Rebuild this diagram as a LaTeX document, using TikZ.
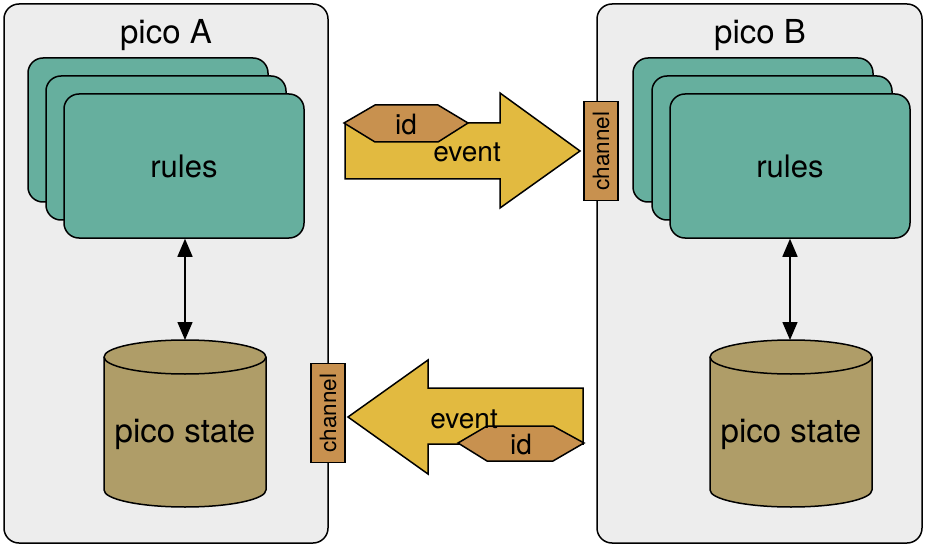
\documentclass[tikz,border=0pt]{standalone}
\usepackage{fontspec}
\setmainfont{TeX Gyre Heros}
\usetikzlibrary{arrows.meta}
\definecolor{picogray}{HTML}{EDEDED}
\definecolor{rulegreen}{HTML}{66AF9E}
\definecolor{statebrown}{HTML}{AF9D68}
\definecolor{eventyellow}{HTML}{E2BA40}
\definecolor{chanorange}{HTML}{C8914F}
\tikzset{
  picobox/.style={draw, line width=1.5pt, fill=picogray, rounded corners=15pt},
  rulebox/.style={draw, line width=1.5pt, fill=rulegreen, rounded corners=15pt, minimum width=240pt, minimum height=144pt, font=\fontsize{31}{34}\selectfont},
  cyl/.style={draw, line width=1.5pt, fill=statebrown},
  bigarrow/.style={draw, line width=1.5pt, fill=eventyellow, line join=miter},
  hexa/.style={draw, line width=1.5pt, fill=chanorange, line join=miter},
  chanbox/.style={draw, line width=1.5pt, fill=chanorange, rotate=90, minimum width=99pt, minimum height=34pt, inner sep=0pt, font=\fontsize{22.5}{26}\selectfont},
  lbl/.style={inner sep=0pt, font=\fontsize{28}{32}\selectfont},
  biglbl/.style={inner sep=0pt, font=\fontsize{33}{36}\selectfont},
  conn/.style={line width=1.5pt, {Triangle[length=18pt,width=15pt]}-{Triangle[length=18pt,width=15pt]}}
}
\begin{document}
\begin{tikzpicture}[x=1pt,y=-1pt]
\useasboundingbox (0,0) rectangle (926,548);
% pico boxes
\path[picobox] (4,4) rectangle (328,543);
\path[picobox] (597,4) rectangle (922,543);
\node[biglbl] (titleA) at (166,35) {pico A};
\node[biglbl] (titleB) at (760,35) {pico B};
% rules stacks A
\node[rulebox] (rA1) at (148,130) {};
\node[rulebox] (rA2) at (166,148) {};
\node[rulebox] (rA3) at (184,166) {rules};
% rules stacks B
\node[rulebox] (rB1) at (753,130) {};
\node[rulebox] (rB2) at (772,148) {};
\node[rulebox] (rB3) at (790,166) {rules};
% cylinders
\filldraw[cyl] (104,357) -- (104,490) arc[start angle=180,end angle=360,x radius=81pt,y radius=17pt] -- (266,357) arc[start angle=0,end angle=180,x radius=81pt,y radius=17pt] -- cycle;
\draw[line width=1.5pt] (104,357) arc[start angle=180,end angle=360,x radius=81pt,y radius=17pt];
\filldraw[cyl] (710,357) -- (710,490) arc[start angle=180,end angle=360,x radius=81pt,y radius=17pt] -- (872,357) arc[start angle=0,end angle=180,x radius=81pt,y radius=17pt] -- cycle;
\draw[line width=1.5pt] (710,357) arc[start angle=180,end angle=360,x radius=81pt,y radius=17pt];
\node[biglbl] (stA) at (185,434) {pico state};
\node[biglbl] (stB) at (791,434) {pico state};
\coordinate (cylAtop) at (185,340);
\coordinate (cylBtop) at (790,340);
\draw[conn] (rA3.south -| cylAtop) -- (cylAtop);
\draw[conn] (rB3.south -| cylBtop) -- (cylBtop);
% top arrow
\draw[bigarrow] (345,123) -- (500,123) -- (500,93) -- (580,151) -- (500,208) -- (500,179) -- (345,179) -- cycle;
\draw[hexa] (344,123) -- (375,105) -- (438,105) -- (468,123) -- (438,142) -- (375,142) -- cycle;
\node[lbl] (idT) at (406,125) {id};
\node[lbl] (evT) at (467,152) {event};
\node[chanbox] (chB) at (601,151) {channel};
% bottom arrow
\draw[bigarrow] (583,388) -- (428,388) -- (428,360) -- (348,417) -- (428,474) -- (428,444) -- (583,444) -- cycle;
\draw[hexa] (458,443) -- (487,426) -- (553,426) -- (584,443) -- (553,461) -- (487,461) -- cycle;
\node[lbl] (evB) at (464,419) {event};
\node[lbl] (idB) at (521,445) {id};
\node[chanbox] (chA) at (328,413) {channel};
\end{tikzpicture}
\end{document}
